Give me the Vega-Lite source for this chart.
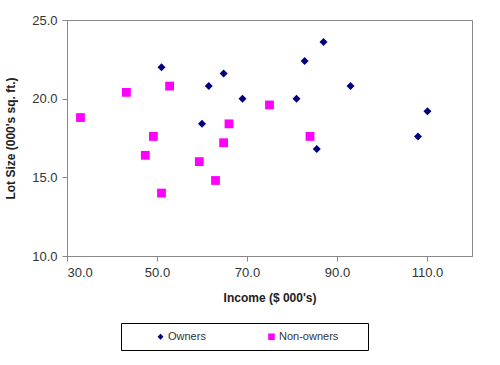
{
  "$schema": "https://vega.github.io/schema/vega-lite/v6.json",
  "width": 405,
  "height": 236,
  "autosize": {"type": "none"},
  "padding": {"left": 67, "top": 20, "right": 28, "bottom": 109},
  "background": "white",
  "config": {
    "view": {"stroke": "#888888", "strokeWidth": 1},
    "font": "Liberation Sans",
    "axis": {"grid": false, "domainColor": "#888888", "tickColor": "#888888", "labelFont": "Liberation Sans", "labelFontSize": 13, "labelColor": "#333333", "titleFont": "Liberation Sans", "titleFontSize": 12, "titleFontWeight": "bold", "titleColor": "#222222", "tickSize": 5}
  },
  "data": {
    "values": [
      {"Income": 60.0, "LotSize": 18.4, "Group": "Owners"},
      {"Income": 85.5, "LotSize": 16.8, "Group": "Owners"},
      {"Income": 64.8, "LotSize": 21.6, "Group": "Owners"},
      {"Income": 61.5, "LotSize": 20.8, "Group": "Owners"},
      {"Income": 87.0, "LotSize": 23.6, "Group": "Owners"},
      {"Income": 110.1, "LotSize": 19.2, "Group": "Owners"},
      {"Income": 108.0, "LotSize": 17.6, "Group": "Owners"},
      {"Income": 82.8, "LotSize": 22.4, "Group": "Owners"},
      {"Income": 69.0, "LotSize": 20.0, "Group": "Owners"},
      {"Income": 93.0, "LotSize": 20.8, "Group": "Owners"},
      {"Income": 51.0, "LotSize": 22.0, "Group": "Owners"},
      {"Income": 81.0, "LotSize": 20.0, "Group": "Owners"},
      {"Income": 75.0, "LotSize": 19.6, "Group": "Non-owners"},
      {"Income": 52.8, "LotSize": 20.8, "Group": "Non-owners"},
      {"Income": 64.8, "LotSize": 17.2, "Group": "Non-owners"},
      {"Income": 43.2, "LotSize": 20.4, "Group": "Non-owners"},
      {"Income": 84.0, "LotSize": 17.6, "Group": "Non-owners"},
      {"Income": 49.2, "LotSize": 17.6, "Group": "Non-owners"},
      {"Income": 59.4, "LotSize": 16.0, "Group": "Non-owners"},
      {"Income": 66.0, "LotSize": 18.4, "Group": "Non-owners"},
      {"Income": 47.4, "LotSize": 16.4, "Group": "Non-owners"},
      {"Income": 33.0, "LotSize": 18.8, "Group": "Non-owners"},
      {"Income": 51.0, "LotSize": 14.0, "Group": "Non-owners"},
      {"Income": 63.0, "LotSize": 14.8, "Group": "Non-owners"}
    ]
  },
  "mark": {"type": "point", "filled": true, "opacity": 1, "size": 64},
  "encoding": {
    "x": {"field": "Income", "type": "quantitative", "scale": {"domain": [30, 120], "nice": false, "zero": false},
      "axis": {"values": [30, 50, 70, 90, 110], "format": ".1f", "title": "Income ($ 000's)", "labelPadding": 5, "titlePadding": 13}},
    "y": {"field": "LotSize", "type": "quantitative", "scale": {"domain": [10, 25], "nice": false, "zero": false},
      "axis": {"values": [10, 15, 20, 25], "format": ".1f", "title": "Lot Size (000's sq. ft.)", "labelPadding": 5, "titlePadding": 14}},
    "color": {"field": "Group", "type": "nominal", "scale": {"domain": ["Owners", "Non-owners"], "range": ["#000080", "#FF00FF"]},
      "legend": {"orient": "none", "legendX": 54, "legendY": 303, "direction": "horizontal", "title": "000", "titleOrient": "right", "titleOpacity": 0, "titleFontSize": 11, "titlePadding": 3, "strokeColor": "#000000", "padding": 8, "symbolOffset": 26, "columnPadding": 34, "labelFont": "Liberation Sans", "labelFontSize": 11, "labelColor": "#333333", "labelOffset": 2, "symbolSize": 36,
        "encode": {"symbols": {"update": {"size": {"value": 30}}}}}},
    "shape": {"field": "Group", "type": "nominal", "scale": {"domain": ["Owners", "Non-owners"], "range": ["M0,-1L1,0L0,1L-1,0Z", "M-1.1,-1.1L1.1,-1.1L1.1,1.1L-1.1,1.1Z"]}, "legend": null}
  }
}
